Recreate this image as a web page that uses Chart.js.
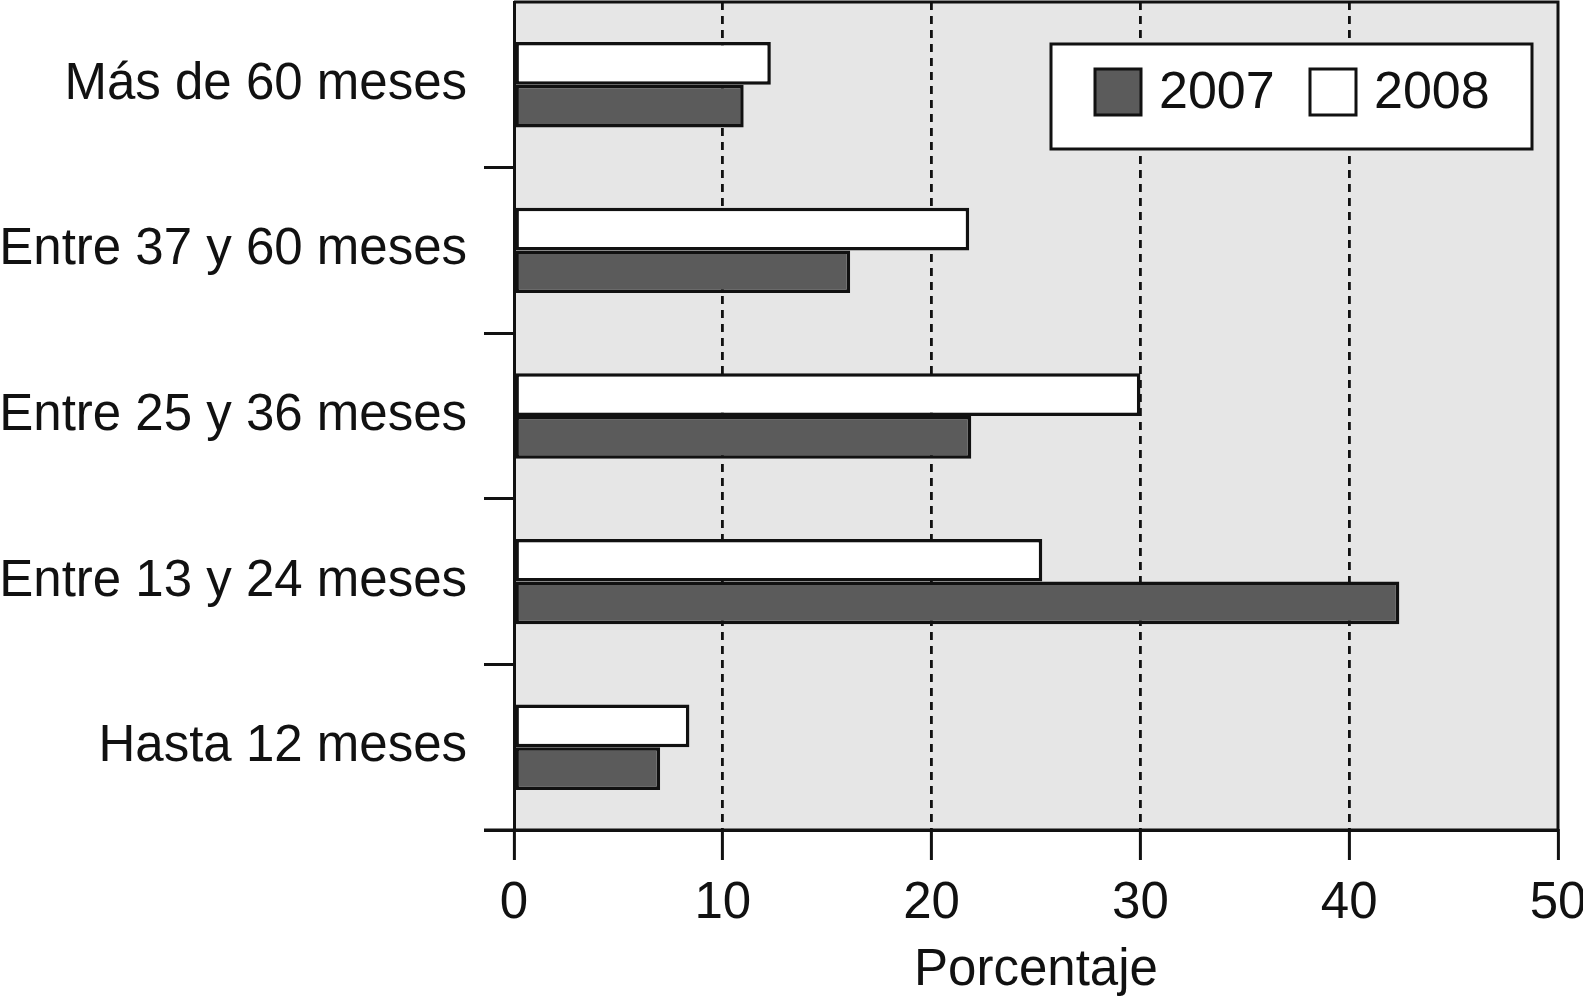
<!DOCTYPE html>
<html>
<head>
<meta charset="utf-8">
<script src="https://cdn.jsdelivr.net/npm/chart.js@4.4.1/dist/chart.umd.min.js"></script>
<style>
html,body{margin:0;padding:0;background:#fff;}
#wrap{width:1583px;height:1002px;position:relative;}
</style>
</head>
<body>
<div id="wrap"><canvas id="c" width="1583" height="1002"></canvas></div>
<script>
const categories = ["Más de 60 meses", "Entre 37 y 60 meses", "Entre 25 y 36 meses", "Entre 13 y 24 meses", "Hasta 12 meses"];
const values2007 = [11.0, 16.1, 21.9, 42.4, 7.0];
const values2008 = [12.3, 21.8, 30.0, 25.3, 8.4];
const xTicks = [0, 10, 20, 30, 40, 50];
const seriesLabels = ["2007", "2008"];
const xTitle = "Porcentaje";

const FONT = "'Liberation Sans', Arial, Helvetica, sans-serif";
const COL07 = "#5b5b5b";
const COL08 = "#ffffff";

const bgPlugin = {
  id: 'bgFrame',
  beforeDraw(chart) {
    const {ctx, chartArea: a} = chart;
    ctx.save();
    ctx.fillStyle = '#e6e6e6';
    ctx.fillRect(a.left, a.top, a.right - a.left, a.bottom - a.top);
    ctx.restore();
  },
  afterDraw(chart) {
    const {ctx, chartArea: a} = chart;
    ctx.save();
    ctx.setLineDash([]);
    ctx.strokeStyle = '#111';
    ctx.lineWidth = 3;
    ctx.beginPath();
    ctx.moveTo(a.left, a.top);
    ctx.lineTo(a.right, a.top);
    ctx.lineTo(a.right, a.bottom);
    ctx.lineTo(a.left - 30, a.bottom);
    ctx.stroke();
    // legend box
    const w = 481, h = 105;
    const L = a.right - 26 - w, T = a.top + 42;
    ctx.fillStyle = '#fff';
    ctx.fillRect(L, T, w, h);
    ctx.lineWidth = 3;
    ctx.strokeRect(L, T, w, h);
    const items = [
      {label: seriesLabels[0], color: COL07, sx: 44, tx: 108},
      {label: seriesLabels[1], color: COL08, sx: 259, tx: 323}
    ];
    ctx.font = "52px " + FONT;
    ctx.textBaseline = 'middle';
    ctx.textAlign = 'left';
    items.forEach(it => {
      ctx.fillStyle = it.color;
      ctx.fillRect(L + it.sx, T + 25, 46, 46);
      ctx.strokeStyle = '#111';
      ctx.lineWidth = 3;
      ctx.strokeRect(L + it.sx, T + 25, 46, 46);
      ctx.fillStyle = '#111';
      ctx.fillText(it.label, L + it.tx, T + 50);
    });
    ctx.restore();
  }
};

new Chart(document.getElementById('c'), {
  type: 'bar',
  data: {
    labels: categories,
    datasets: [
      {label: seriesLabels[1], data: values2008, backgroundColor: COL08, borderColor: '#111', borderWidth: 3.5, borderSkipped: false, categoryPercentage: 0.516, barPercentage: 1},
      {label: seriesLabels[0], data: values2007, backgroundColor: COL07, borderColor: '#111', borderWidth: 3.5, borderSkipped: false, categoryPercentage: 0.516, barPercentage: 1}
    ]
  },
  plugins: [bgPlugin],
  options: {
    indexAxis: 'y',
    responsive: false,
    animation: false,
    devicePixelRatio: 1,
    layout: {padding: {top: 2, right: 25, left: 0, bottom: 0}},
    plugins: {legend: {display: false}, tooltip: {enabled: false}},
    scales: {
      x: {
        type: 'linear',
        min: 0, max: 50,
        afterBuildTicks(scale) { scale.ticks = xTicks.map(v => ({value: v})); },
        afterFit(scale) { scale.height = 172; scale.paddingLeft = 0; scale.paddingRight = 0; },
        ticks: {color: '#111', font: {family: FONT, size: 51}, padding: 13},
        grid: {
          color: ctx => (ctx.tick && (ctx.tick.value === 0 || ctx.tick.value === 50)) ? 'rgba(0,0,0,0)' : '#111',
          tickColor: '#111',
          lineWidth: 2.8,
          tickBorderDash: [],
          tickWidth: 3,
          tickLength: 30,
          drawOnChartArea: true
        },
        border: {display: true, color: '#111', width: 3, dash: [8, 6]},
        title: {display: true, text: xTitle, color: '#111', font: {family: FONT, size: 51}, padding: {top: 4, bottom: 0}}
      },
      y: {
        type: 'category',
        afterFit(scale) { scale.width = 514; scale.paddingTop = 0; scale.paddingBottom = 0; },
        ticks: {color: '#111', font: {family: FONT, size: 51}, padding: 17},
        grid: {offset: true, drawOnChartArea: false, color: '#111',
               tickColor: ctx => ctx.index === 0 ? 'rgba(0,0,0,0)' : '#111',
               tickLength: 30, lineWidth: 3},
        border: {display: true, color: '#111', width: 3}
      }
    }
  }
});
</script>
</body>
</html>
